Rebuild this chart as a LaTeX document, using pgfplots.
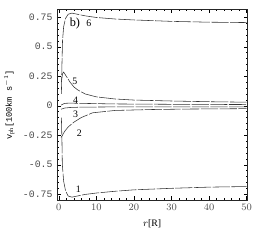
\documentclass[border=0pt]{standalone}
\usepackage{pgfplots}
\pgfplotsset{compat=1.18}
\usepackage{fontspec}
\setmainfont{Liberation Serif}
\setmonofont{Liberation Mono}
\begin{document}
\begin{tikzpicture}[x=0.02734cm,y=0.02734cm]
\begin{axis}[
  scale only axis, width=5.44cm, height=5.44cm,
  xmin=-0.5, xmax=50.2, ymin=-0.8, ymax=0.815,
  xtick={0,10,20,30,40,50},
  ytick={-0.75,-0.5,-0.25,0,0.25,0.5,0.75},
  yticklabels={-0.75,-0.5,-0.25,0,0.25,0.5,0.75},
  minor x tick num=4, minor y tick num=4,
  tick align=inside, major tick length=3pt, minor tick length=1.5pt,
  tick style={black, line width=0.3pt},
  axis line style={line width=0.4pt, black!85},
  tick label style={font=\ttfamily\footnotesize, text=black!70},
  xlabel={$r$[R]}, xlabel style={font=\footnotesize, yshift=0pt},
  ylabel={\ttfamily v$_{\rm ph}$[100km s$^{-1}$]}, ylabel style={font=\scriptsize, yshift=0pt},
  clip=true,
]
\tikzset{cv/.style={line width=0.45pt, black!80, no markers, dash pattern=on 14pt off 1.2pt}}
\addplot[cv] coordinates {(0.7,-0.1) (0.85,-0.3) (0.95,-0.5) (1.3,-0.64) (1.8,-0.72) (2.5,-0.765) (3.5,-0.775) (5,-0.765) (7,-0.752) (10,-0.74) (15,-0.725) (20,-0.713) (30,-0.70) (40,-0.69) (50,-0.685)};
\addplot[cv] coordinates {(0.6,-0.27) (1,-0.25) (1.5,-0.22) (2.5,-0.18) (4,-0.14) (6,-0.10) (9,-0.06) (15,-0.04) (25,-0.032) (35,-0.028) (50,-0.025)};
\addplot[cv] coordinates {(0.6,-0.03) (1.5,-0.02) (3,-0.015) (6,-0.012) (15,-0.01) (30,-0.01) (50,-0.01)};
\addplot[cv] coordinates {(0.6,0.005) (1.5,0.02) (3,0.022) (6,0.02) (15,0.015) (30,0.012) (50,0.01)};
\addplot[cv] coordinates {(0.7,0.2) (1.0,0.27) (1.3,0.285) (2,0.25) (3,0.20) (4,0.16) (5,0.135) (7,0.10) (10,0.075) (15,0.057) (20,0.048) (30,0.04) (40,0.034) (50,0.03)};
\addplot[cv] coordinates {(0.7,0.1) (0.85,0.35) (1.0,0.55) (1.3,0.67) (1.8,0.74) (2.5,0.775) (3.5,0.785) (5,0.775) (7,0.762) (10,0.748) (15,0.735) (20,0.727) (30,0.715) (40,0.708) (50,0.705)};
\node[font=\normalsize, inner sep=0pt] at (axis cs:4.3,0.695) {b)};
\node[font=\footnotesize] at (axis cs:8.0,0.70) {6};
\node[font=\footnotesize] at (axis cs:4.3,0.21) {5};
\node[font=\footnotesize] at (axis cs:4.5,0.05) {4};
\node[font=\footnotesize] at (axis cs:4.5,-0.07) {3};
\node[font=\footnotesize] at (axis cs:5.5,-0.23) {2};
\node[font=\footnotesize] at (axis cs:5.2,-0.71) {1};
\end{axis}
\path[use as bounding box] (current axis.south west) ++(-53,-47) rectangle ([xshift=4*0.02734cm, yshift=10*0.02734cm]current axis.north east);
\end{tikzpicture}
\end{document}
